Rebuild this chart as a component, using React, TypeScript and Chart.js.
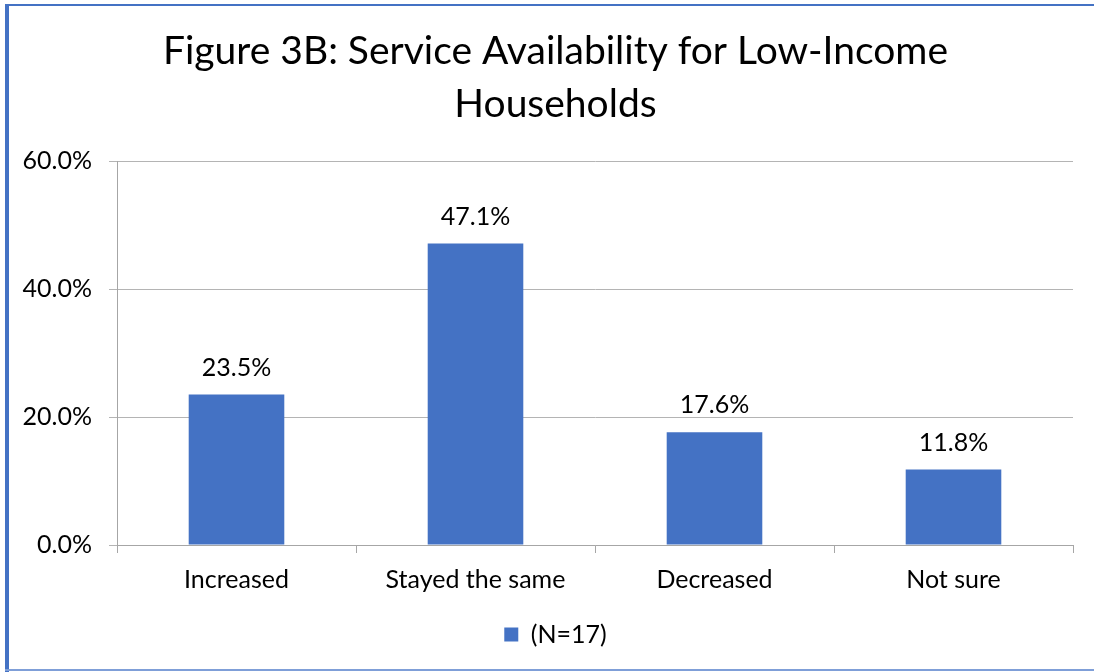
import React, { useEffect, useRef } from "react";
import { Chart, registerables } from "chart.js";

Chart.register(...registerables);

const categories: string[] = ["Increased", "Stayed the same", "Decreased", "Not sure"];
const seriesLabel = "(N=17)";
const seriesValues: number[] = [23.5, 47.1, 17.6, 11.8];
const yTickValues: number[] = [0, 20, 40, 60];
const titleLines: string[] = ["Figure 3B: Service Availability for Low-Income", "Households"];

const FONT = "Lato, 'Liberation Sans', sans-serif";
const BLUE = "#4472C4";

const framePlugin = {
  id: "frame",
  beforeDraw(chart: any) {
    const { ctx, width, height } = chart;
    ctx.save();
    ctx.fillStyle = "#ffffff";
    ctx.fillRect(0, 0, width, height);
    ctx.fillStyle = BLUE;
    ctx.fillRect(5, 4, width - 5, 2);
    ctx.fillRect(5, 4, 4, height - 4);
    ctx.fillStyle = "#7F9FD8";
    ctx.fillRect(5, height - 3, width - 5, 2);
    ctx.restore();
  },
};

// Centre the title and legend over the span the original chart used
const shiftBlocksPlugin = {
  id: "shiftBlocks",
  afterLayout(chart: any) {
    if (chart.titleBlock) chart.titleBlock.left = 38;
    if (chart.legend) chart.legend.left = 38;
  },
};

const valueLabelPlugin = {
  id: "valueLabels",
  afterDatasetsDraw(chart: any) {
    const { ctx } = chart;
    const meta = chart.getDatasetMeta(0);
    const data = chart.data.datasets[0].data as number[];
    ctx.save();
    ctx.font = `25px ${FONT}`;
    ctx.fillStyle = "#000000";
    ctx.textAlign = "center";
    ctx.textBaseline = "middle";
    meta.data.forEach((bar: any, i: number) => {
      ctx.fillText(`${data[i].toFixed(1)}%`, bar.x, bar.y - 27);
    });
    ctx.restore();
  },
};

export default function App() {
  const canvasRef = useRef<HTMLCanvasElement | null>(null);

  useEffect(() => {
    if (!canvasRef.current) return;
    const chart = new Chart(canvasRef.current, {
      type: "bar",
      data: {
        labels: categories,
        datasets: [
          {
            label: seriesLabel,
            data: seriesValues,
            backgroundColor: BLUE,
            borderWidth: 0,
            barPercentage: 0.4,
            categoryPercentage: 1,
          },
        ],
      },
      options: {
        responsive: false,
        animation: false,
        devicePixelRatio: 1,
        layout: { padding: { top: 0, left: 0, right: 21, bottom: 15 } },
        plugins: {
          tooltip: { enabled: false },
          title: {
            display: true,
            text: titleLines,
            color: "#000000",
            font: { family: FONT, size: 39, weight: "normal", lineHeight: 53 / 39 },
            padding: { top: 25, bottom: 30 },
          },
          legend: {
            display: true,
            position: "bottom",
            labels: {
              color: "#000000",
              font: { family: FONT, size: 25 },
              boxWidth: 14,
              boxHeight: 14,
              padding: 10,
            },
          },
        },
        scales: {
          x: {
            offset: true,
            grid: {
              offset: true,
              drawOnChartArea: false,
              drawTicks: true,
              tickLength: 8,
              color: "#A6A6A6",
            },
            border: { display: true, color: "#A6A6A6" },
            ticks: { color: "#000000", font: { family: FONT, size: 25 }, padding: 12, maxRotation: 0 },
            afterFit(scale: any) {
              scale.height = 67;
            },
          },
          y: {
            min: 0,
            max: 60,
            afterBuildTicks(scale: any) {
              scale.ticks = yTickValues.map((v) => ({ value: v }));
            },
            grid: { color: "#B4B4B4", tickLength: 8, drawTicks: true },
            border: { display: true, color: "#A6A6A6" },
            ticks: {
              color: "#000000",
              font: { family: FONT, size: 25 },
              padding: 17,
              callback: (v: any) => `${Number(v).toFixed(1)}%`,
            },
            afterFit(scale: any) {
              scale.width = 117;
            },
          },
        },
      },
      plugins: [framePlugin, shiftBlocksPlugin, valueLabelPlugin],
    });
    return () => chart.destroy();
  }, []);

  return (
    <div style={{ position: "absolute", left: 0, top: 0, width: 1094, height: 672 }}>
      <canvas ref={canvasRef} width={1094} height={672} style={{ display: "block", width: 1094, height: 672 }} />
    </div>
  );
}
